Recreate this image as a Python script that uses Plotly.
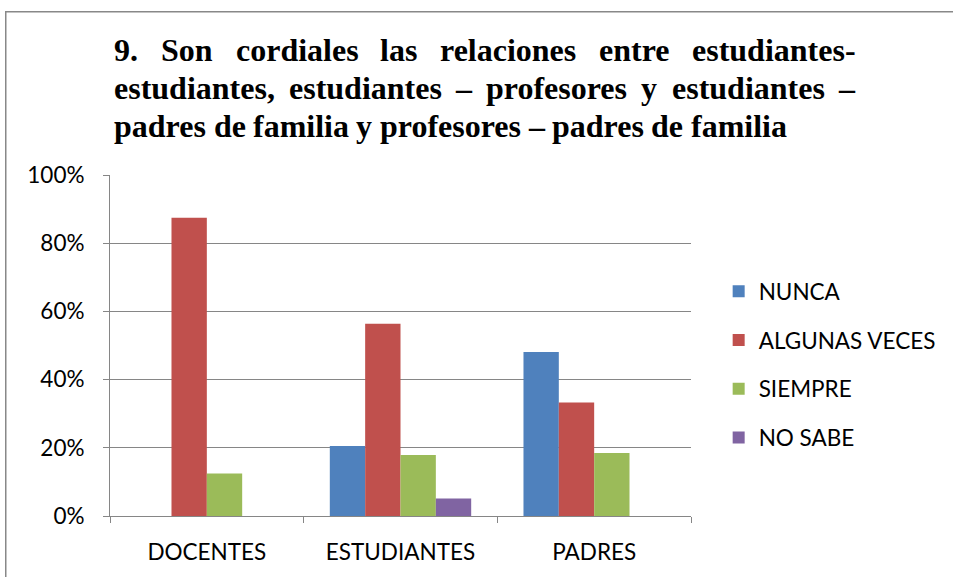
import plotly.graph_objects as go

categories = ["DOCENTES", "ESTUDIANTES", "PADRES"]
series_names = ["NUNCA", "ALGUNAS VECES", "SIEMPRE", "NO SABE"]
nunca = [0.0, 0.205, 0.481]
algunas_veces = [0.875, 0.564, 0.333]
siempre = [0.125, 0.179, 0.185]
no_sabe = [0.0, 0.051, 0.0]
series_values = [nunca, algunas_veces, siempre, no_sabe]
colors = ["#4F81BD", "#C0504D", "#9BBB59", "#8064A2"]
y_tick_values = [0, 0.2, 0.4, 0.6, 0.8, 1.0]
y_tick_labels = ["0%", "20%", "40%", "60%", "80%", "100%"]

title_lines = [
    "9. Son cordiales las relaciones entre estudiantes-",
    "estudiantes, estudiantes – profesores y estudiantes –",
    "padres de familia y profesores – padres de familia",
]
title_justified = [True, True, False]

W, H = 953, 577
L, R, T, B = 110, 698, 174.5, 519

def xp(px):
    return (px - L) / (R - L)

def yp(py):
    return (B - py) / (B - T)

fig = go.Figure()
for name, vals, col in zip(series_names, series_values, colors):
    fig.add_trace(go.Bar(
        x=categories, y=vals, name=name, marker_color=col,
        marker_line_width=0, legendgroup=name, hoverinfo="skip",
    ))

# Times-Bold advance widths (per 1000 em) for justified title layout
TB = {' ': 250, 'a': 500, 'b': 556, 'c': 444, 'd': 556, 'e': 444, 'f': 333, 'g': 500,
      'h': 556, 'i': 278, 'l': 278, 'm': 833, 'n': 556, 'o': 500, 'p': 556, 'r': 444,
      's': 389, 't': 333, 'u': 556, 'y': 500, ',': 250, '.': 250, '-': 333, '–': 500,
      '9': 500, 'S': 556, 'v': 500, 'k': 556}
TSIZE = 32

def wwidth(w):
    return sum(TB.get(c, 500) for c in w) * TSIZE / 1000.0

line_left, line_right = 112.5, 861
line_y = [48, 87, 125]
title_font = dict(family="Liberation Serif", size=TSIZE, color="black")
for i, line in enumerate(title_lines):
    words = line.split(" ")
    widths = [wwidth(w) for w in words]
    if title_justified[i]:
        gap = (line_right - line_left - sum(widths)) / (len(words) - 1)
    else:
        gap = TB[' '] * TSIZE / 1000.0
    x = line_left
    for w, ww in zip(words, widths):
        fig.add_annotation(text="<b>%s</b>" % w, xref="paper", yref="paper",
                           x=xp(x), y=yp(line_y[i]), xanchor="left", yanchor="middle",
                           showarrow=False, font=title_font)
        x += ww + gap

# outer chart frame
fig.add_shape(type="rect", xref="paper", yref="paper",
              x0=xp(4.5), x1=xp(990), y0=yp(9.5), y1=yp(620),
              line=dict(color="#888888", width=1.5), fillcolor="rgba(0,0,0,0)")

axis_font = dict(family="Lato", size=22.5, color="black")
fig.update_layout(
    width=W, height=H,
    margin=dict(l=L, r=W - R, t=T, b=H - B),
    paper_bgcolor="white", plot_bgcolor="white",
    barmode="group", bargap=0.27, bargroupgap=0,
    showlegend=True, hovermode=False,
    legend=dict(x=xp(726), y=yp(366), xanchor="left", yanchor="middle",
                font=dict(family="Lato", size=22.5, color="black"),
                tracegroupgap=16.5, traceorder="grouped", bgcolor="rgba(0,0,0,0)"),
    font=axis_font,
)
fig.update_yaxes(range=[0, 1], tickvals=y_tick_values, ticktext=y_tick_labels,
                 showgrid=True, gridcolor="#868686", gridwidth=1,
                 showline=True, linecolor="#868686", linewidth=1,
                 ticks="outside", ticklen=6, tickcolor="#868686",
                 ticklabelstandoff=14, tickfont=axis_font, zeroline=False)
fig.update_xaxes(showline=True, linecolor="#868686", linewidth=1,
                 ticks="outside", ticklen=6, tickcolor="#868686",
                 tickson="boundaries", ticklabelstandoff=16, tickfont=axis_font,
                 showgrid=False, mirror=False)

fig.write_html("out.html", config={"displayModeBar": False},
               post_script="document.body.style.margin='0';document.body.style.overflow='hidden';")
